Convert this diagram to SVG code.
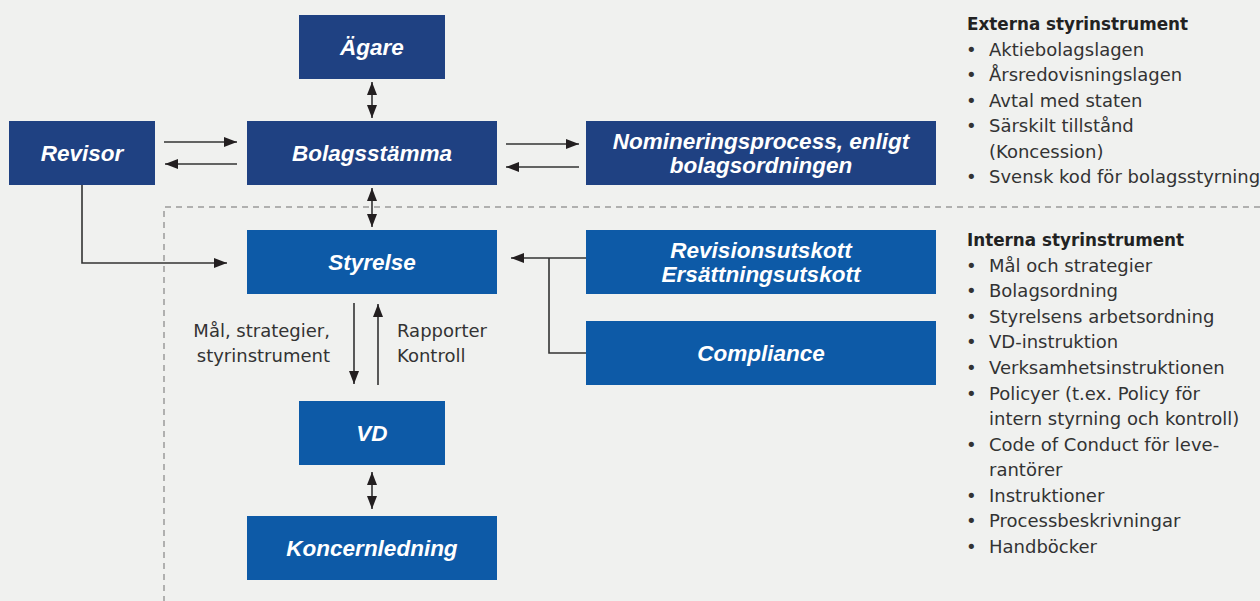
<svg xmlns="http://www.w3.org/2000/svg" width="1260" height="601" viewBox="0 0 1260 601">
<style>
.dark{fill:#1f4182}
.blue{fill:#0d5aa7}
.bt{font-family:"Liberation Sans",Arial,sans-serif;font-weight:bold;font-style:italic;font-size:22.5px;fill:#fff;text-anchor:middle}
.ln{stroke:#333;stroke-width:1.6;fill:none}
.t{font-family:"DejaVu Sans","Liberation Sans",sans-serif;font-size:18px;fill:#333}
.h{font-family:"DejaVu Sans","Liberation Sans",sans-serif;font-size:16.8px;font-weight:bold;fill:#222}
.dash{stroke:#9a9a9a;stroke-width:1.5;stroke-dasharray:6 5;fill:none}
</style>
<defs>
<marker id="ah" markerUnits="userSpaceOnUse" markerWidth="14" markerHeight="12" refX="13" refY="5" orient="auto-start-reverse" viewBox="0 0 14 10">
<path d="M0,0 L13,5 L0,10 z" fill="#231f20"/>
</marker>
</defs>
<rect width="1260" height="601" fill="#f0f1ef"/>
<g id="dashed-boundary">
<path class="dash" d="M1260,207 H164 V601"/>
</g>
<g id="connectors">
<line class="ln" x1="372" y1="82" x2="372" y2="118" marker-start="url(#ah)" marker-end="url(#ah)"/>
<line class="ln" x1="372" y1="188" x2="372" y2="227" marker-start="url(#ah)" marker-end="url(#ah)"/>
<line class="ln" x1="372" y1="472" x2="372" y2="509" marker-start="url(#ah)" marker-end="url(#ah)"/>
<line class="ln" x1="164" y1="142" x2="237" y2="142" marker-end="url(#ah)"/>
<line class="ln" x1="237" y1="164" x2="165" y2="164" marker-end="url(#ah)"/>
<line class="ln" x1="506" y1="144" x2="579" y2="144" marker-end="url(#ah)"/>
<line class="ln" x1="579" y1="167" x2="506" y2="167" marker-end="url(#ah)"/>
<path class="ln" d="M82,185 V263 H227" marker-end="url(#ah)"/>
<path class="ln" d="M586,258 H511" marker-end="url(#ah)"/>
<path class="ln" d="M549,258 V353 H586"/>
<line class="ln" x1="354" y1="303" x2="354" y2="384" marker-end="url(#ah)"/>
<line class="ln" x1="378" y1="385" x2="378" y2="304" marker-end="url(#ah)"/>
<text class="t" x="330" y="337" text-anchor="end">Mål, strategier,</text>
<text class="t" x="330" y="362" text-anchor="end">styrinstrument</text>
<text class="t" x="397" y="337">Rapporter</text>
<text class="t" x="397" y="362">Kontroll</text>
</g>
<g id="agare"><rect class="dark" x="299" y="15" width="146" height="64"/><text class="bt" x="372" y="55">Ägare</text></g>
<g id="revisor"><rect class="dark" x="9" y="121" width="146" height="64"/><text class="bt" x="82" y="161">Revisor</text></g>
<g id="bolagsstamma"><rect class="dark" x="247" y="121" width="250" height="64"/><text class="bt" x="372" y="161">Bolagsstämma</text></g>
<g id="nominering"><rect class="dark" x="586" y="121" width="350" height="64"/><text class="bt" x="761" y="149">Nomineringsprocess, enligt</text><text class="bt" x="761" y="173">bolagsordningen</text></g>
<g id="styrelse"><rect class="blue" x="247" y="230" width="250" height="64"/><text class="bt" x="372" y="270">Styrelse</text></g>
<g id="utskott"><rect class="blue" x="586" y="230" width="350" height="64"/><text class="bt" x="761" y="258">Revisionsutskott</text><text class="bt" x="761" y="282">Ersättningsutskott</text></g>
<g id="compliance"><rect class="blue" x="586" y="321" width="350" height="64"/><text class="bt" x="761" y="361">Compliance</text></g>
<g id="vd"><rect class="blue" x="299" y="401" width="146" height="64"/><text class="bt" x="372" y="441">VD</text></g>
<g id="koncernledning"><rect class="blue" x="247" y="516" width="250" height="64"/><text class="bt" x="372" y="556">Koncernledning</text></g>
<g id="externa">
<text class="h" x="967" y="30">Externa styrinstrument</text>
<g class="t">
<text x="966" y="56">•</text><text x="989" y="56">Aktiebolagslagen</text>
<text x="966" y="81">•</text><text x="989" y="81">Årsredovisningslagen</text>
<text x="966" y="107">•</text><text x="989" y="107">Avtal med staten</text>
<text x="966" y="132">•</text><text x="989" y="132">Särskilt tillstånd</text>
<text x="989" y="158">(Koncession)</text>
<text x="966" y="183">•</text><text x="989" y="183">Svensk kod för bolagsstyrning</text>
</g>
</g>
<g id="interna">
<text class="h" x="967" y="246">Interna styrinstrument</text>
<g class="t">
<text x="966" y="272">•</text><text x="989" y="272">Mål och strategier</text>
<text x="966" y="297">•</text><text x="989" y="297">Bolagsordning</text>
<text x="966" y="323">•</text><text x="989" y="323">Styrelsens arbetsordning</text>
<text x="966" y="348">•</text><text x="989" y="348">VD-instruktion</text>
<text x="966" y="374">•</text><text x="989" y="374">Verksamhetsinstruktionen</text>
<text x="966" y="400">•</text><text x="989" y="400">Policyer (t.ex. Policy för</text>
<text x="989" y="425">intern styrning och kontroll)</text>
<text x="966" y="451">•</text><text x="989" y="451">Code of Conduct för leve-</text>
<text x="989" y="476">rantörer</text>
<text x="966" y="502">•</text><text x="989" y="502">Instruktioner</text>
<text x="966" y="527">•</text><text x="989" y="527">Processbeskrivningar</text>
<text x="966" y="553">•</text><text x="989" y="553">Handböcker</text>
</g>
</g>
</svg>
